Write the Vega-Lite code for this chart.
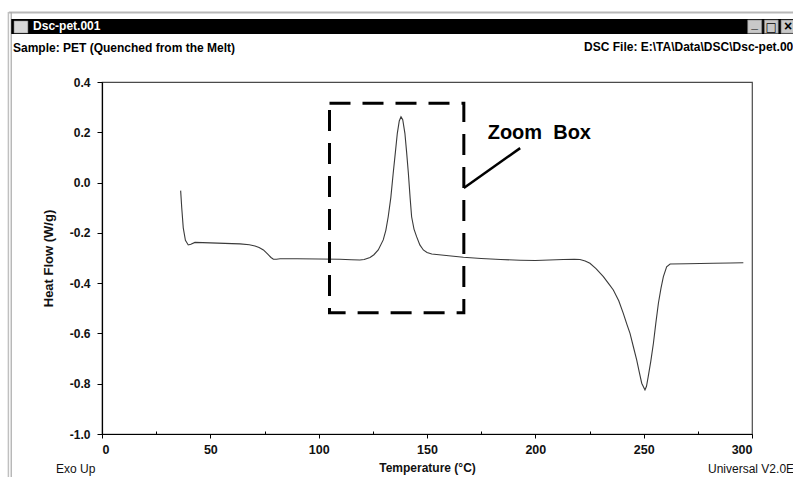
{
  "$schema": "https://vega.github.io/schema/vega-lite/v6.json",
  "width": 650,
  "height": 352,
  "autosize": {"type": "none"},
  "padding": {"left": 102, "top": 82, "right": 41, "bottom": 43},
  "background": "white",
  "config": {
    "font": "Liberation Sans",
    "view": {"stroke": "#4a4a4a", "strokeWidth": 1.2},
    "axis": {
      "grid": false,
      "domainColor": "#000",
      "domainWidth": 1.2,
      "tickColor": "#000",
      "labelFont": "Liberation Sans",
      "labelFontWeight": "bold",
      "labelFontSize": 12,
      "labelColor": "#111",
      "titleFont": "Liberation Sans",
      "titleFontWeight": "bold",
      "titleFontSize": 12,
      "titleColor": "#111",
      "labelOverlap": false
    }
  },
  "data": {
    "values": [
      {"T": 36.3, "H": -0.032}, {"T": 36.8, "H": -0.1}, {"T": 37.5, "H": -0.18}, {"T": 38.5, "H": -0.23},
      {"T": 39.8, "H": -0.248}, {"T": 41.0, "H": -0.245}, {"T": 42.9, "H": -0.238}, {"T": 50, "H": -0.24},
      {"T": 60, "H": -0.243}, {"T": 63.7, "H": -0.244}, {"T": 68, "H": -0.247}, {"T": 70.6, "H": -0.252},
      {"T": 72.5, "H": -0.258}, {"T": 74.5, "H": -0.268}, {"T": 76.5, "H": -0.285}, {"T": 78.0, "H": -0.298},
      {"T": 79.1, "H": -0.305}, {"T": 80.5, "H": -0.305}, {"T": 82.2, "H": -0.303}, {"T": 90, "H": -0.303},
      {"T": 100, "H": -0.304}, {"T": 109.8, "H": -0.305}, {"T": 115, "H": -0.307}, {"T": 119, "H": -0.308},
      {"T": 121, "H": -0.306}, {"T": 123.7, "H": -0.298}, {"T": 125.5, "H": -0.287}, {"T": 127.5, "H": -0.268},
      {"T": 129.8, "H": -0.228}, {"T": 131, "H": -0.19}, {"T": 132.1, "H": -0.136}, {"T": 133.3, "H": -0.06},
      {"T": 134.4, "H": 0.037}, {"T": 135.4, "H": 0.12}, {"T": 136.3, "H": 0.196}, {"T": 137.2, "H": 0.245},
      {"T": 138.0, "H": 0.262}, {"T": 138.8, "H": 0.25}, {"T": 139.8, "H": 0.196}, {"T": 140.6, "H": 0.12},
      {"T": 141.4, "H": 0.037}, {"T": 142.2, "H": -0.06}, {"T": 142.9, "H": -0.136}, {"T": 144, "H": -0.185},
      {"T": 145.2, "H": -0.215}, {"T": 146.7, "H": -0.248}, {"T": 148.3, "H": -0.268}, {"T": 150, "H": -0.278},
      {"T": 152.2, "H": -0.284}, {"T": 160, "H": -0.291}, {"T": 166.8, "H": -0.297}, {"T": 175, "H": -0.302},
      {"T": 184, "H": -0.306}, {"T": 193, "H": -0.309}, {"T": 200, "H": -0.31}, {"T": 212.9, "H": -0.306},
      {"T": 218, "H": -0.305}, {"T": 220.6, "H": -0.306}, {"T": 223, "H": -0.312}, {"T": 225.2, "H": -0.321},
      {"T": 228, "H": -0.342}, {"T": 231.4, "H": -0.374}, {"T": 234, "H": -0.404}, {"T": 236, "H": -0.427},
      {"T": 238.5, "H": -0.47}, {"T": 240.6, "H": -0.52}, {"T": 242.3, "H": -0.565}, {"T": 243.7, "H": -0.6},
      {"T": 245.3, "H": -0.655}, {"T": 246.8, "H": -0.706}, {"T": 248, "H": -0.755}, {"T": 249.1, "H": -0.798},
      {"T": 250.6, "H": -0.825}, {"T": 251.3, "H": -0.81}, {"T": 252.1, "H": -0.772}, {"T": 253.3, "H": -0.71},
      {"T": 254.5, "H": -0.639}, {"T": 255.6, "H": -0.56}, {"T": 256.8, "H": -0.48}, {"T": 258, "H": -0.42},
      {"T": 259.1, "H": -0.374}, {"T": 260.6, "H": -0.335}, {"T": 262.2, "H": -0.324}, {"T": 270, "H": -0.323},
      {"T": 282.1, "H": -0.321}, {"T": 290, "H": -0.32}, {"T": 296, "H": -0.319}
    ]
  },
  "layer": [
    {
      "mark": {"type": "line", "color": "#3a3a3a", "strokeWidth": 1.1},
      "encoding": {
        "x": {
          "field": "T", "type": "quantitative",
          "scale": {"domain": [0, 300], "nice": false, "zero": false},
          "axis": {
            "title": "Temperature (°C)",
            "values": [0, 25, 50, 75, 100, 125, 150, 175, 200, 225, 250, 275, 300],
            "labelExpr": "datum.value % 50 == 0 ? datum.label : ''",
            "tickSize": {"condition": {"test": "datum.value % 50 == 0", "value": 4}, "value": -3},
            "labelFontSize": 12.5,
            "labelPadding": 5,
            "titlePadding": 7
          }
        },
        "y": {
          "field": "H", "type": "quantitative",
          "scale": {"domain": [-1, 0.4], "nice": false, "zero": false},
          "axis": {
            "title": "Heat Flow (W/g)",
            "values": [-1, -0.9, -0.8, -0.7, -0.6, -0.5, -0.4, -0.3, -0.2, -0.1, 0, 0.1, 0.2, 0.3, 0.4],
            "labelExpr": "round(datum.value*10) % 2 == 0 ? replace(format(datum.value, '.1f'), '\u2212', '-') : ''",
            "tickSize": {"condition": {"test": "round(datum.value*10) % 2 == 0", "value": 5}, "value": 3},
            "labelPadding": 7,
            "titleFontSize": 13,
            "titlePadding": 14
          }
        }
      }
    },
    {
      "data": {"values": [{}]},
      "mark": {"type": "rect", "fill": "none", "stroke": "#000", "strokeWidth": 3, "strokeDash": [21, 12], "clip": false},
      "encoding": {
        "x": {"datum": 105, "type": "quantitative"},
        "x2": {"datum": 167},
        "y": {"datum": 0.315, "type": "quantitative"},
        "y2": {"datum": -0.518}
      }
    },
    {
      "data": {"values": [{}]},
      "mark": {"type": "rule", "color": "#000", "strokeWidth": 2.5, "clip": false},
      "encoding": {
        "x": {"datum": 167, "type": "quantitative"},
        "x2": {"datum": 193},
        "y": {"datum": -0.022, "type": "quantitative"},
        "y2": {"datum": 0.137}
      }
    },
    {
      "data": {"values": [{}]},
      "mark": {"type": "text", "text": "Zoom\u00a0\u00a0Box", "align": "left", "baseline": "middle", "font": "Liberation Sans", "fontWeight": "bold", "fontSize": 20, "color": "#000", "clip": false},
      "encoding": {
        "x": {"datum": 178, "type": "quantitative"},
        "y": {"datum": 0.197, "type": "quantitative"}
      }
    },
    {
      "data": {"values": [{}]},
      "mark": {"type": "rule", "color": "#b8b8b8", "strokeWidth": 2, "clip": false},
      "encoding": {
        "x": {"datum": -43, "type": "quantitative"},
        "x2": {"datum": 320},
        "y": {"datum": 0.6764, "type": "quantitative"}
      }
    },
    {
      "data": {"values": [{}]},
      "mark": {"type": "rule", "color": "#c0c0c0", "strokeWidth": 1.5, "clip": false},
      "encoding": {
        "x": {"datum": -43.2, "type": "quantitative"},
        "y": {"datum": 0.678, "type": "quantitative"},
        "y2": {"datum": -1.2}
      }
    },
    {
      "data": {"values": [{}]},
      "mark": {"type": "rule", "color": "#a8a8a8", "strokeWidth": 1.2, "clip": false},
      "encoding": {
        "x": {"datum": -41.9, "type": "quantitative"},
        "y": {"datum": 0.678, "type": "quantitative"},
        "y2": {"datum": -1.2}
      }
    },
    {
      "data": {"values": [{}]},
      "mark": {"type": "rect", "fill": "#000", "clip": false},
      "encoding": {
        "x": {"datum": -41.9, "type": "quantitative"},
        "x2": {"datum": 320},
        "y": {"datum": 0.6506, "type": "quantitative"},
        "y2": {"datum": 0.5909}
      }
    },
    {
      "data": {"values": [{}]},
      "mark": {"type": "rect", "fill": "#d8d8d8", "stroke": "#888", "strokeWidth": 0.5, "clip": false},
      "encoding": {
        "x": {"datum": -40.6, "type": "quantitative"},
        "x2": {"datum": -34.2},
        "y": {"datum": 0.6426, "type": "quantitative"},
        "y2": {"datum": 0.5949}
      }
    },
    {
      "data": {"values": [{}]},
      "mark": {"type": "text", "text": "Dsc-pet.001", "align": "left", "baseline": "middle", "font": "Liberation Sans", "fontWeight": "bold", "fontSize": 12, "color": "#fff", "clip": false},
      "encoding": {
        "x": {"datum": -31.8, "type": "quantitative"},
        "y": {"datum": 0.6227, "type": "quantitative"}
      }
    },
    {
      "data": {"values": [{}]},
      "mark": {"type": "rect", "fill": "#c8c8c8", "stroke": "#777", "strokeWidth": 0.6, "clip": false},
      "encoding": {
        "x": {"datum": 298.0, "type": "quantitative"},
        "x2": {"datum": 304.5},
        "y": {"datum": 0.6466, "type": "quantitative"},
        "y2": {"datum": 0.5937}
      }
    },
    {
      "data": {"values": [{}]},
      "mark": {"type": "rect", "fill": "#c8c8c8", "stroke": "#777", "strokeWidth": 0.6, "clip": false},
      "encoding": {
        "x": {"datum": 305.7, "type": "quantitative"},
        "x2": {"datum": 312.1},
        "y": {"datum": 0.6466, "type": "quantitative"},
        "y2": {"datum": 0.5937}
      }
    },
    {
      "data": {"values": [{}]},
      "mark": {"type": "rect", "fill": "#c8c8c8", "stroke": "#777", "strokeWidth": 0.6, "clip": false},
      "encoding": {
        "x": {"datum": 313.4, "type": "quantitative"},
        "x2": {"datum": 320.0},
        "y": {"datum": 0.6466, "type": "quantitative"},
        "y2": {"datum": 0.5937}
      }
    },
    {
      "data": {"values": [{}]},
      "mark": {"type": "text", "text": "_", "align": "center", "baseline": "middle", "fontWeight": "bold", "fontSize": 12, "color": "#000", "clip": false, "dy": -3},
      "encoding": {
        "x": {"datum": 301.25, "type": "quantitative"},
        "y": {"datum": 0.62, "type": "quantitative"}
      }
    },
    {
      "data": {"values": [{}]},
      "mark": {"type": "text", "text": "□", "align": "center", "baseline": "middle", "font": "DejaVu Sans", "fontSize": 12, "color": "#000", "clip": false},
      "encoding": {
        "x": {"datum": 308.9, "type": "quantitative"},
        "y": {"datum": 0.62, "type": "quantitative"}
      }
    },
    {
      "data": {"values": [{}]},
      "mark": {"type": "text", "text": "×", "align": "center", "baseline": "middle", "fontWeight": "bold", "fontSize": 14, "color": "#000", "clip": false},
      "encoding": {
        "x": {"datum": 316.7, "type": "quantitative"},
        "y": {"datum": 0.62, "type": "quantitative"}
      }
    },
    {
      "data": {"values": [{}]},
      "mark": {"type": "text", "text": "Sample: PET (Quenched from the Melt)", "align": "left", "baseline": "middle", "fontWeight": "bold", "fontSize": 12, "color": "#000", "clip": false},
      "encoding": {
        "x": {"datum": -41.1, "type": "quantitative"},
        "y": {"datum": 0.537, "type": "quantitative"}
      }
    },
    {
      "data": {"values": [{}]},
      "mark": {"type": "text", "text": "DSC File: E:\\TA\\Data\\DSC\\Dsc-pet.001", "align": "left", "baseline": "middle", "fontWeight": "bold", "fontSize": 12, "color": "#000", "clip": false},
      "encoding": {
        "x": {"datum": 222.5, "type": "quantitative"},
        "y": {"datum": 0.541, "type": "quantitative"}
      }
    },
    {
      "data": {"values": [{}]},
      "mark": {"type": "text", "text": "Exo Up", "align": "left", "baseline": "middle", "fontSize": 12, "color": "#111", "clip": false},
      "encoding": {
        "x": {"datum": -21.2, "type": "quantitative"},
        "y": {"datum": -1.139, "type": "quantitative"}
      }
    },
    {
      "data": {"values": [{}]},
      "mark": {"type": "text", "text": "Universal V2.0E", "align": "left", "baseline": "middle", "fontSize": 12, "color": "#111", "clip": false},
      "encoding": {
        "x": {"datum": 279.7, "type": "quantitative"},
        "y": {"datum": -1.139, "type": "quantitative"}
      }
    }
  ]
}
